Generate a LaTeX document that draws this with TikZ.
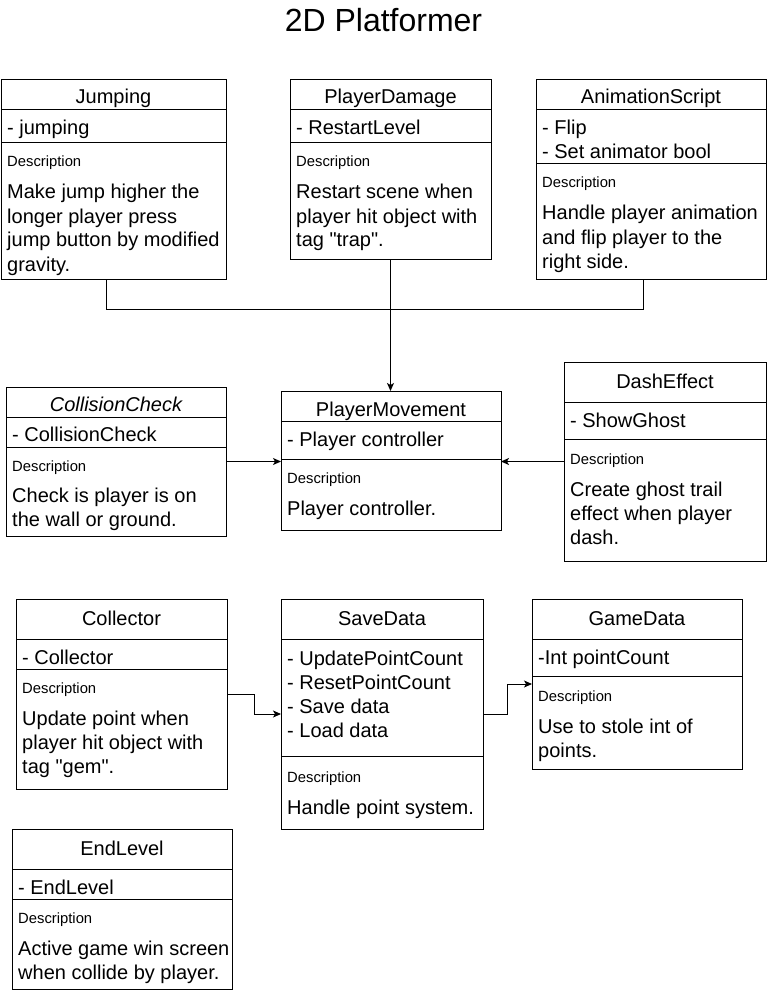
\documentclass[tikz,border=0pt]{standalone}
\usepackage{fontspec}
\setmainfont{Liberation Sans}
\usetikzlibrary{arrows.meta}
\tikzset{
  clsbox/.style={draw=black, line width=1pt, fill=white, inner sep=0pt, outer sep=0pt},
  bodyfont/.style={font=\fontsize{20}{24}\selectfont, inner sep=0pt, text=black},
  descfont/.style={font=\fontsize{14.8}{18}\selectfont, inner sep=0pt, text=black},
  ttl/.style={bodyfont, anchor=base},
  itm/.style={bodyfont, anchor=base west},
  dsc/.style={descfont, anchor=base west},
  lnk/.style={line width=1pt, draw=black},
  arr/.style={lnk, -{Stealth[length=8pt, width=7pt, inset=2pt]}},
  divider/.style={line width=1pt, draw=black}
}
\newcommand\umlcls[5]{%
  \node[clsbox, anchor=north west, minimum width={#4-#2}, minimum height={#5-#3}] (#1) at (#2,#3) {};}
\begin{document}
\begin{tikzpicture}[x=1pt, y=-1pt]
\useasboundingbox[fill=white] (0,0) rectangle (767,992);
\node[font=\fontsize{32}{38}\selectfont, anchor=base, inner sep=0pt] (title) at (383.5,32) {2D Platformer};

% Jumping
\umlcls{jump}{1}{80}{226}{279}
\draw[divider] (1,110) -- (226,110);
\draw[divider] (1,143) -- (226,143);
\node[ttl] (jumpt) at (113.5,104) {Jumping};
\node[itm] (jumpa) at (7,135) {- jumping};
\node[dsc] (jumpd) at (7,167) {Description};
\node[itm] (jumpb1) at (7,199) {Make jump higher the};
\node[itm] (jumpb2) at (7,223) {longer player press};
\node[itm] (jumpb3) at (7,247) {jump button by modified};
\node[itm] (jumpb4) at (7,271) {gravity.};

% PlayerDamage
\umlcls{pd}{290}{80}{491}{259}
\draw[divider] (290,110) -- (491,110);
\draw[divider] (290,143) -- (491,143);
\node[ttl] (pdt) at (390.5,104) {PlayerDamage};
\node[itm] (pda) at (296,135) {- RestartLevel};
\node[dsc] (pdd) at (296,167) {Description};
\node[itm] (pdb1) at (296,199) {Restart scene when};
\node[itm] (pdb2) at (296,223) {player hit object with};
\node[itm] (pdb3) at (296,247) {tag \textquotedbl trap\textquotedbl.};

% AnimationScript
\umlcls{anim}{536}{80}{766}{279}
\draw[divider] (536,110) -- (766,110);
\draw[divider] (536,164) -- (766,164);
\node[ttl] (animt) at (651,104) {AnimationScript};
\node[itm] (anima1) at (542,135) {- Flip};
\node[itm] (anima2) at (542,159) {- Set animator bool};
\node[dsc] (animd) at (542,188) {Description};
\node[itm] (animb1) at (542,220) {Handle player animation};
\node[itm] (animb2) at (542,244) {and flip player to the};
\node[itm] (animb3) at (542,268) {right side.};

% CollisionCheck
\umlcls{coll}{6}{387}{226}{536}
\draw[divider] (6,417) -- (226,417);
\draw[divider] (6,447) -- (226,447);
\node[ttl, font=\fontsize{20}{24}\selectfont\itshape] (collt) at (116,411) {CollisionCheck};
\node[itm] (colla) at (12,441) {- CollisionCheck};
\node[dsc] (colld) at (12,471) {Description};
\node[itm] (collb1) at (12,502) {Check is player is on};
\node[itm] (collb2) at (12,526) {the wall or ground.};

% PlayerMovement
\umlcls{pm}{281}{391}{501}{530}
\draw[divider] (281,421) -- (501,421);
\draw[divider] (281,459) -- (501,459);
\node[ttl] (pmt) at (391,416) {PlayerMovement};
\node[itm] (pma) at (287,446) {- Player controller};
\node[dsc] (pmd) at (287,483) {Description};
\node[itm] (pmb1) at (287,515) {Player controller.};

% DashEffect
\umlcls{dash}{564}{362}{766}{561}
\draw[divider] (564,402) -- (766,402);
\draw[divider] (564,439) -- (766,439);
\node[ttl] (dasht) at (665,388) {DashEffect};
\node[itm] (dasha) at (570,427) {- ShowGhost};
\node[dsc] (dashd) at (570,464) {Description};
\node[itm] (dashb1) at (570,496) {Create ghost trail};
\node[itm] (dashb2) at (570,520) {effect when player};
\node[itm] (dashb3) at (570,544) {dash.};

% Collector
\umlcls{colr}{16}{599}{227}{789}
\draw[divider] (16,639) -- (227,639);
\draw[divider] (16,669) -- (227,669);
\node[ttl] (colrt) at (121.5,625) {Collector};
\node[itm] (colra) at (22,664) {- Collector};
\node[dsc] (colrd) at (22,693) {Description};
\node[itm] (colrb1) at (22,725) {Update point when};
\node[itm] (colrb2) at (22,749) {player hit object with};
\node[itm] (colrb3) at (22,773) {tag \textquotedbl gem\textquotedbl.};

% SaveData
\umlcls{save}{281}{599}{483}{829}
\draw[divider] (281,639) -- (483,639);
\draw[divider] (281,756) -- (483,756);
\node[ttl] (savet) at (382,625) {SaveData};
\node[itm] (savea1) at (287,665) {- UpdatePointCount};
\node[itm] (savea2) at (287,689) {- ResetPointCount};
\node[itm] (savea3) at (287,713) {- Save data};
\node[itm] (savea4) at (287,737) {- Load data};
\node[dsc] (saved) at (287,782) {Description};
\node[itm] (saveb1) at (287,814) {Handle point system.};

% GameData
\umlcls{game}{532}{599}{742}{769}
\draw[divider] (532,639) -- (742,639);
\draw[divider] (532,676) -- (742,676);
\node[ttl] (gamet) at (637,625) {GameData};
\node[itm] (gamea) at (538,664) {-Int pointCount};
\node[dsc] (gamed) at (538,701) {Description};
\node[itm] (gameb1) at (538,733) {Use to stole int of};
\node[itm] (gameb2) at (538,757) {points.};

% EndLevel
\umlcls{endl}{12}{829}{232}{989}
\draw[divider] (12,869) -- (232,869);
\draw[divider] (12,899) -- (232,899);
\node[ttl] (endlt) at (122,855) {EndLevel};
\node[itm] (endla) at (18,894) {- EndLevel};
\node[dsc] (endld) at (18,923) {Description};
\node[itm] (endlb1) at (18,955) {Active game win screen};
\node[itm] (endlb2) at (18,979) {when collide by player.};

% connectors
\coordinate (jct) at (390.5,309);
\draw[lnk] ([xshift=105pt]jump.south west) |- (jct);
\draw[lnk] ([xshift=107pt]anim.south west) |- (jct);
\draw[arr] (pd.south) -- (pd.south |- pm.north);
\draw[arr] (coll.east) -- (coll.east -| pm.west);
\draw[arr] (dash.west) -- (dash.west -| pm.east);
\draw[arr] (colr.east) -- ++(27,0) |- (save.west);
\draw[arr] (save.east) -- ++(24,0) |- (game.west);
\end{tikzpicture}
\end{document}
